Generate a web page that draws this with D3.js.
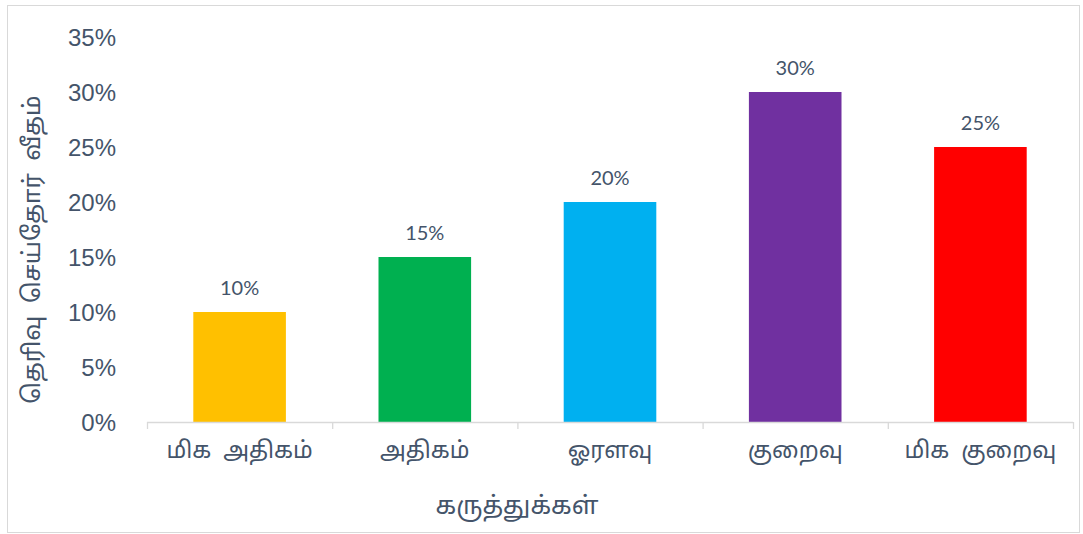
<!DOCTYPE html>
<html>
<head>
<meta charset="utf-8">
<script src="https://cdn.jsdelivr.net/npm/d3@7"></script>
<style>
  body { margin: 0; background: #fff; }
  svg { display: block; font-family: Lato, "Noto Sans", sans-serif; }
  .ta { font-family: "Noto Sans Tamil", "Lohit Tamil", "FreeSans", Lato, "Noto Sans", sans-serif; }
</style>
</head>
<body>
<svg id="chart"></svg>
<script>
// கருத்துக்கள் vs share of respondents
const categories = ["மிக  அதிகம்", "அதிகம்", "ஓரளவு", "குறைவு", "மிக  குறைவு"];
const values = [0.10, 0.15, 0.20, 0.30, 0.25];
const colors = ["#FFC000", "#00B050", "#00B0F0", "#7030A0", "#FF0000"];
const yTicks = [0, 0.05, 0.10, 0.15, 0.20, 0.25, 0.30, 0.35];

const W = 1083, H = 534;
const margin = { top: 37, right: 10, bottom: 112, left: 147 };
const plotRight = 1073;
const textColor = "#44546A";

const svg = d3.select("#chart")
    .attr("width", W)
    .attr("height", H);

// chart border
svg.append("rect")
    .attr("x", 7.5).attr("y", 5.5)
    .attr("width", 1072).attr("height", 527)
    .attr("fill", "#fff")
    .attr("stroke", "#D9D9D9");

const x = d3.scaleBand()
    .domain(categories)
    .range([margin.left, plotRight])
    .padding(0);

const y = d3.scaleLinear()
    .domain([0, 0.35])
    .range([H - margin.bottom, margin.top]);

const barW = x.bandwidth() * 0.5;

svg.selectAll(".bar")
    .data(categories)
    .enter().append("rect")
    .attr("class", "bar")
    .attr("x", (d) => x(d) + (x.bandwidth() - barW) / 2)
    .attr("width", barW)
    .attr("y", (d, i) => y(values[i]))
    .attr("height", (d, i) => y(0) - y(values[i]))
    .attr("fill", (d, i) => colors[i]);

// y axis labels only (no line, no grid)
const yAxis = svg.append("g")
    .attr("transform", `translate(${margin.left - 28},0)`)
    .call(d3.axisLeft(y).tickValues(yTicks).tickFormat(d3.format(".0%")).tickSize(0));
yAxis.select(".domain").remove();
yAxis.selectAll("text")
    .attr("fill", textColor)
    .style("font-size", "24px")
    .attr("dy", "0.36em");

// x axis line + boundary ticks
const xAxis = svg.append("g");
xAxis.append("line")
    .attr("x1", margin.left).attr("x2", plotRight)
    .attr("y1", y(0) + 0.5).attr("y2", y(0) + 0.5)
    .attr("stroke", "#D9D9D9").attr("stroke-width", 1.3);

const bounds = categories.map((d) => x(d)).concat([plotRight]);
xAxis.selectAll(".tick")
    .data(bounds)
    .enter().append("line")
    .attr("x1", (d) => d + 0.5).attr("x2", (d) => d + 0.5)
    .attr("y1", y(0)).attr("y2", y(0) + 7)
    .attr("stroke", "#D9D9D9").attr("stroke-width", 1.3);

xAxis.selectAll(".cat")
    .data(categories)
    .enter().append("text")
    .attr("class", "ta")
    .attr("x", (d) => x(d) + x.bandwidth() / 2)
    .attr("y", y(0) + 36)
    .attr("text-anchor", "middle")
    .attr("fill", textColor)
    .style("font-size", "23px")
    .style("white-space", "pre")
    .text((d) => d);

// data labels
svg.selectAll(".lbl")
    .data(categories)
    .enter().append("text")
    .attr("x", (d) => x(d) + x.bandwidth() / 2)
    .attr("y", (d, i) => y(values[i]) - 17)
    .attr("text-anchor", "middle")
    .attr("fill", textColor)
    .style("font-size", "20px")
    .text((d, i) => d3.format(".0%")(values[i]));

// axis titles
svg.append("text")
    .attr("class", "ta")
    .attr("transform", `translate(40,${(y(0) + y(0.35)) / 2 + 20}) rotate(-90)`)
    .attr("text-anchor", "middle")
    .attr("fill", textColor)
    .style("font-size", "24px")
    .style("white-space", "pre")
    .text("தெரிவு  செய்தோர்  வீதம்");

svg.append("text")
    .attr("class", "ta")
    .attr("x", 517)
    .attr("y", 514)
    .attr("text-anchor", "middle")
    .attr("fill", textColor)
    .style("font-size", "25px")
    .text("கருத்துக்கள்");
</script>
</body>
</html>
